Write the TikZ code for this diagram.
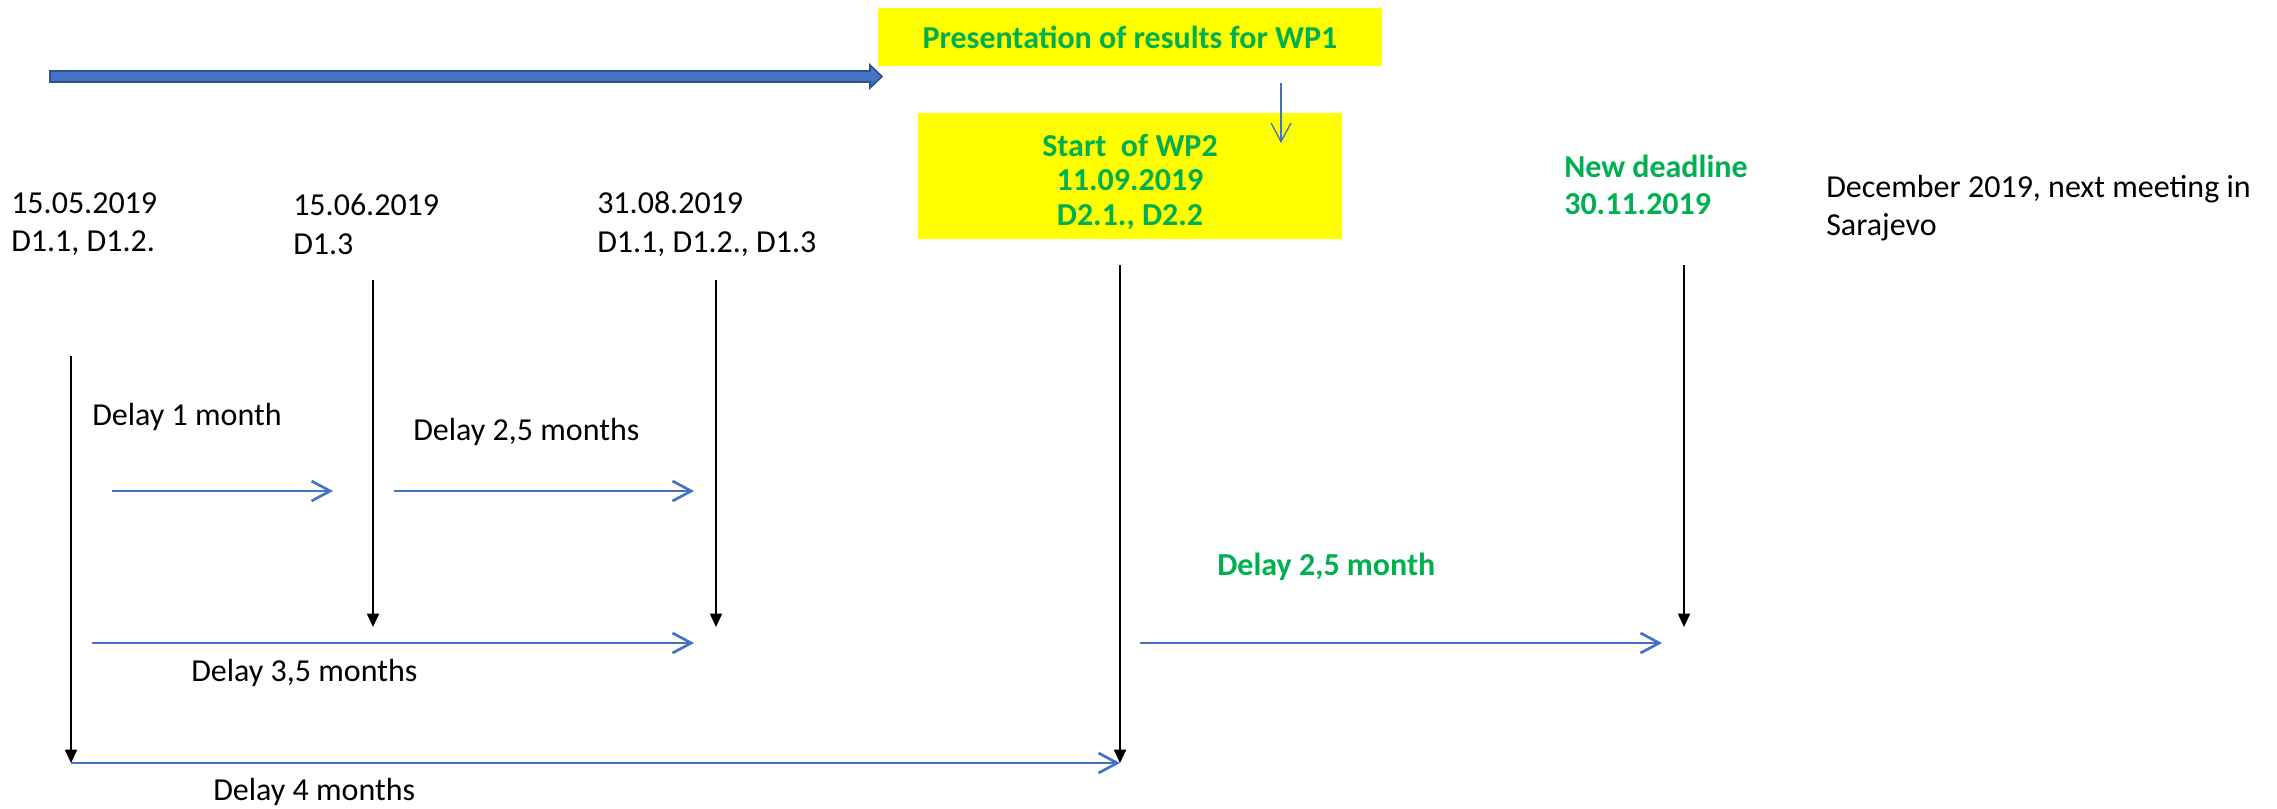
\documentclass[tikz,border=0pt]{standalone}
\usepackage{fontspec}
\setmainfont{Carlito}
\usetikzlibrary{arrows.meta}
\definecolor{tlBlue}{HTML}{4472C4}
\definecolor{tlNavy}{HTML}{2F528F}
\definecolor{tlGreen}{HTML}{00B050}
\definecolor{tlYellow}{HTML}{FFFF00}
\tikzset{
  txt/.style={anchor=west, inner sep=0pt, align=left,
              font=\fontsize{24}{29}\selectfont},
  hi/.style={anchor=west, inner sep=0pt, align=left, text=tlGreen,
              font=\fontsize{24}{28}\selectfont\bfseries},
  note/.style={fill=tlYellow, text=tlGreen, align=center, inner sep=0pt,
              font=\fontsize{24}{26}\selectfont\bfseries},
  due/.style={-{Triangle[length=10pt,width=9pt]}, draw=black, line width=1.3pt},
  lag/.style={-{Straight Barb[length=14pt,width=15pt]}, draw=tlBlue, line width=2pt},
  hint/.style={-{Straight Barb[length=14pt,width=15pt]}, draw=tlBlue, line width=1pt},
}
\begin{document}
\begin{tikzpicture}[x=0.75pt,y=-0.75pt]
        \useasboundingbox (0,0) rectangle (2277,808);
        % WP1 block arrow and the two yellow notes
        \fill[tlBlue,draw=tlNavy,line width=1.2pt]
              (50,71)--(870,71)--(870,65)--(882,76.5)--(870,88)--(870,82)--(50,82)--cycle;
        \node[note,minimum width=378pt,minimum height=43.5pt] (wp1) at (1130,37)
              {Presentation of results for WP1};
        \node[note,minimum width=318pt,minimum height=94.5pt] (wp2) at (1130,176) {};
        \node[note,fill=none] (wp2txt) at ([yshift=-4.5pt]wp2.center)
              {Start\ \ of WP2\\11.09.2019\\D2.1., D2.2};
        \coordinate (hintA) at (1281,83);
        \coordinate (hintB) at (1281,143);
        \draw[hint] (hintA)--(hintB);
        % dates and deliverables
        \node[txt] (d1) at (11,224) {15.05.2019\\D1.1, D1.2.};
        \node[txt] (d2) at (293,224) {15.06.2019\\D1.3};
        \node[txt] (d3) at (597,224) {31.08.2019\\D1.1, D1.2., D1.3};
        \node[hi] (dl) at (1564,185) {New deadline\\30.11.2019};
        \node[txt] (meet) at (1826,208) {December 2019, next meeting in\\Sarajevo};
        % deadline markers
        \foreach \n/\x/\a/\b in {1/71/356/763,2/373/280/627,3/716/280/627,
                                 4/1120/265/763,5/1684/265/627}{
          \coordinate (top\n) at (\x,\a);
          \coordinate (end\n) at (\x,\b);
          \draw[due] (top\n)--(end\n);}
        % delays
        \coordinate (l1a) at (112,491);  \coordinate (l1b) at (333,491);
        \coordinate (l2a) at (394,491);  \coordinate (l2b) at (694,491);
        \coordinate (l3a) at (92,643);   \coordinate (l3b) at (694,643);
        \coordinate (l5a) at (1140,643); \coordinate (l5b) at (1662,643);
        \draw[lag] (l1a)--(l1b);
        \draw[lag] (l2a)--(l2b);
        \draw[lag] (l3a)--(l3b);
        \draw[lag] (end1)--(end4);
        \draw[lag] (l5a)--(l5b);
        \node[txt] (t1) at (92,417) {Delay 1 month};
        \node[txt] (t2) at (413,432) {Delay 2,5 months};
        \node[txt] (t3) at (191,673) {Delay 3,5 months};
        \node[txt] (t4) at (213,792) {Delay 4 months};
        \node[hi] (t5) at (1217,567) {Delay 2,5 month};
      \end{tikzpicture}
\end{document}
